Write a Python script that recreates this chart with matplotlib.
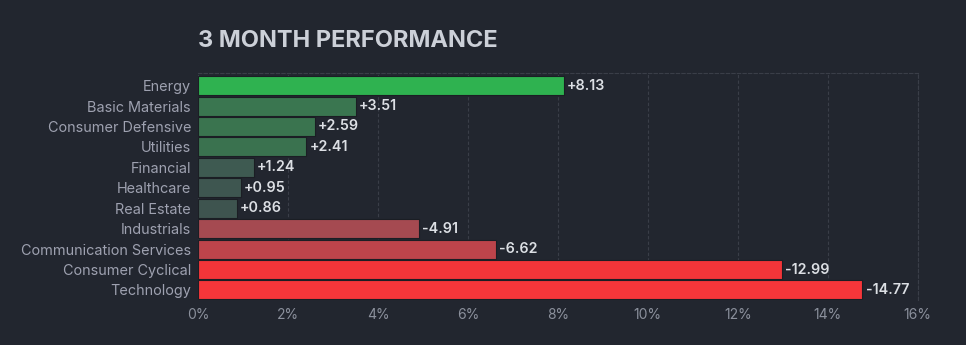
import matplotlib
matplotlib.use("Agg")
import matplotlib.pyplot as plt
from matplotlib.ticker import FuncFormatter

sectors = ["Energy", "Basic Materials", "Consumer Defensive", "Utilities",
           "Financial", "Healthcare", "Real Estate", "Industrials",
           "Communication Services", "Consumer Cyclical", "Technology"]
changes = [8.13, 3.51, 2.59, 2.41, 1.24, 0.95, 0.86, -4.91, -6.62, -12.99, -14.77]
bar_colors = ["#2fb250", "#3a7650", "#3a744f", "#3a724f", "#3e5a51", "#3e5650",
              "#3e544f", "#a54a51", "#bd444b", "#f23539", "#f6363a"]
x_ticks = [0, 2, 4, 6, 8, 10, 12, 14, 16]

BG = "#22262f"
plt.rcParams["font.family"] = ["Inter", "DejaVu Sans"]

fig = plt.figure(figsize=(9.66, 3.45), dpi=100, facecolor=BG)
ax = fig.add_axes([0.205, 0.130, 0.745, 0.658], facecolor=BG)

ypos = list(range(len(sectors)))
ax.barh(ypos, [abs(v) for v in changes], height=0.93, color=bar_colors,
        edgecolor="#1b1e24", linewidth=0.8, zorder=3)

for y, v in zip(ypos, changes):
    ax.text(abs(v) + 0.07, y, f"{v:+.2f}", va="center", ha="left",
            color="#dcdfe4", fontsize=10.3, fontweight="semibold", zorder=4)

ax.set_ylim(len(sectors) - 0.5, -0.61)
ax.set_xlim(0, 16)
ax.set_yticks(ypos)
ax.set_yticklabels(sectors)
ax.set_xticks(x_ticks)
ax.xaxis.set_major_formatter(FuncFormatter(lambda v, _: f"{v:.0f}%"))
ax.tick_params(axis="y", length=0, pad=5, labelsize=10.4, labelcolor="#9ea1b0")
ax.tick_params(axis="x", length=0, pad=6, labelsize=10, labelcolor="#8b909c")

ax.grid(axis="x", color="#3a3e48", linestyle=(0, (3, 2)), linewidth=0.8, zorder=0)
for side in ["left", "bottom"]:
    ax.spines[side].set_visible(False)
for side in ["top", "right"]:
    ax.spines[side].set_color("#3a3e48")
    ax.spines[side].set_linestyle((0, (3, 2)))
    ax.spines[side].set_linewidth(0.8)

fig.text(0.205, 0.882, "3 MONTH PERFORMANCE", color="#ccd0d8", fontsize=17,
         fontweight="bold", ha="left", va="center")

fig.savefig("out.png", dpi=100, facecolor=BG)
